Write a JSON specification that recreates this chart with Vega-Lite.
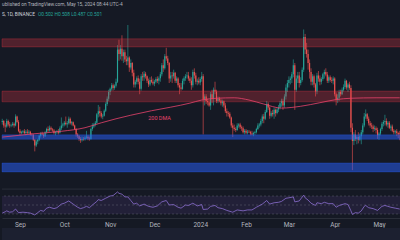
{
"$schema":"https://vega.github.io/schema/vega-lite/v6.json",
"background":"#151924",
"padding":0,
"spacing":0,
"config":{"view":{"stroke":null},"font":"Roboto"},
"datasets":{
"candles":[
{"t":"2023-08-20","o":0.528,"h":0.535,"l":0.522,"c":0.530},
{"t":"2023-08-21","o":0.530,"h":0.532,"l":0.515,"c":0.520},
{"t":"2023-08-22","o":0.520,"h":0.525,"l":0.505,"c":0.518},
{"t":"2023-08-23","o":0.518,"h":0.535,"l":0.515,"c":0.530},
{"t":"2023-08-24","o":0.530,"h":0.533,"l":0.518,"c":0.522},
{"t":"2023-08-25","o":0.522,"h":0.528,"l":0.515,"c":0.520},
{"t":"2023-08-26","o":0.520,"h":0.524,"l":0.516,"c":0.521},
{"t":"2023-08-27","o":0.521,"h":0.528,"l":0.518,"c":0.524},
{"t":"2023-08-28","o":0.524,"h":0.527,"l":0.515,"c":0.520},
{"t":"2023-08-29","o":0.520,"h":0.545,"l":0.518,"c":0.540},
{"t":"2023-08-30","o":0.540,"h":0.542,"l":0.525,"c":0.528},
{"t":"2023-08-31","o":0.528,"h":0.532,"l":0.505,"c":0.508},
{"t":"2023-09-01","o":0.508,"h":0.512,"l":0.498,"c":0.503},
{"t":"2023-09-02","o":0.503,"h":0.508,"l":0.500,"c":0.505},
{"t":"2023-09-03","o":0.505,"h":0.510,"l":0.502,"c":0.507},
{"t":"2023-09-04","o":0.507,"h":0.512,"l":0.500,"c":0.503},
{"t":"2023-09-05","o":0.503,"h":0.510,"l":0.498,"c":0.506},
{"t":"2023-09-06","o":0.506,"h":0.512,"l":0.500,"c":0.504},
{"t":"2023-09-07","o":0.504,"h":0.510,"l":0.499,"c":0.506},
{"t":"2023-09-08","o":0.506,"h":0.508,"l":0.497,"c":0.500},
{"t":"2023-09-09","o":0.500,"h":0.503,"l":0.496,"c":0.499},
{"t":"2023-09-10","o":0.499,"h":0.501,"l":0.485,"c":0.488},
{"t":"2023-09-11","o":0.488,"h":0.490,"l":0.462,"c":0.475},
{"t":"2023-09-12","o":0.475,"h":0.488,"l":0.472,"c":0.484},
{"t":"2023-09-13","o":0.484,"h":0.490,"l":0.478,"c":0.488},
{"t":"2023-09-14","o":0.488,"h":0.500,"l":0.485,"c":0.497},
{"t":"2023-09-15","o":0.497,"h":0.505,"l":0.493,"c":0.502},
{"t":"2023-09-16","o":0.502,"h":0.506,"l":0.498,"c":0.500},
{"t":"2023-09-17","o":0.500,"h":0.503,"l":0.492,"c":0.496},
{"t":"2023-09-18","o":0.496,"h":0.508,"l":0.494,"c":0.505},
{"t":"2023-09-19","o":0.505,"h":0.515,"l":0.502,"c":0.512},
{"t":"2023-09-20","o":0.512,"h":0.518,"l":0.505,"c":0.509},
{"t":"2023-09-21","o":0.509,"h":0.520,"l":0.506,"c":0.515},
{"t":"2023-09-22","o":0.515,"h":0.518,"l":0.508,"c":0.511},
{"t":"2023-09-23","o":0.511,"h":0.514,"l":0.506,"c":0.509},
{"t":"2023-09-24","o":0.509,"h":0.512,"l":0.500,"c":0.503},
{"t":"2023-09-25","o":0.503,"h":0.508,"l":0.498,"c":0.505},
{"t":"2023-09-26","o":0.505,"h":0.510,"l":0.501,"c":0.507},
{"t":"2023-09-27","o":0.507,"h":0.512,"l":0.500,"c":0.504},
{"t":"2023-09-28","o":0.504,"h":0.518,"l":0.502,"c":0.514},
{"t":"2023-09-29","o":0.514,"h":0.538,"l":0.510,"c":0.520},
{"t":"2023-09-30","o":0.520,"h":0.526,"l":0.515,"c":0.522},
{"t":"2023-10-01","o":0.522,"h":0.530,"l":0.518,"c":0.526},
{"t":"2023-10-02","o":0.526,"h":0.540,"l":0.520,"c":0.523},
{"t":"2023-10-03","o":0.523,"h":0.530,"l":0.515,"c":0.525},
{"t":"2023-10-04","o":0.525,"h":0.540,"l":0.522,"c":0.535},
{"t":"2023-10-05","o":0.535,"h":0.538,"l":0.522,"c":0.525},
{"t":"2023-10-06","o":0.525,"h":0.530,"l":0.520,"c":0.527},
{"t":"2023-10-07","o":0.527,"h":0.529,"l":0.518,"c":0.520},
{"t":"2023-10-08","o":0.520,"h":0.522,"l":0.510,"c":0.512},
{"t":"2023-10-09","o":0.512,"h":0.514,"l":0.495,"c":0.500},
{"t":"2023-10-10","o":0.500,"h":0.503,"l":0.492,"c":0.496},
{"t":"2023-10-11","o":0.496,"h":0.498,"l":0.485,"c":0.490},
{"t":"2023-10-12","o":0.490,"h":0.494,"l":0.481,"c":0.487},
{"t":"2023-10-13","o":0.487,"h":0.495,"l":0.484,"c":0.490},
{"t":"2023-10-14","o":0.490,"h":0.494,"l":0.486,"c":0.489},
{"t":"2023-10-15","o":0.489,"h":0.496,"l":0.486,"c":0.493},
{"t":"2023-10-16","o":0.493,"h":0.508,"l":0.490,"c":0.495},
{"t":"2023-10-17","o":0.495,"h":0.498,"l":0.487,"c":0.491},
{"t":"2023-10-18","o":0.491,"h":0.495,"l":0.486,"c":0.490},
{"t":"2023-10-19","o":0.490,"h":0.515,"l":0.488,"c":0.512},
{"t":"2023-10-20","o":0.512,"h":0.525,"l":0.508,"c":0.518},
{"t":"2023-10-21","o":0.518,"h":0.526,"l":0.514,"c":0.522},
{"t":"2023-10-22","o":0.522,"h":0.530,"l":0.518,"c":0.526},
{"t":"2023-10-23","o":0.526,"h":0.548,"l":0.524,"c":0.545},
{"t":"2023-10-24","o":0.545,"h":0.566,"l":0.538,"c":0.552},
{"t":"2023-10-25","o":0.552,"h":0.562,"l":0.540,"c":0.548},
{"t":"2023-10-26","o":0.548,"h":0.552,"l":0.536,"c":0.540},
{"t":"2023-10-27","o":0.540,"h":0.546,"l":0.534,"c":0.542},
{"t":"2023-10-28","o":0.542,"h":0.556,"l":0.540,"c":0.553},
{"t":"2023-10-29","o":0.553,"h":0.572,"l":0.550,"c":0.568},
{"t":"2023-10-30","o":0.568,"h":0.585,"l":0.564,"c":0.580},
{"t":"2023-10-31","o":0.580,"h":0.600,"l":0.575,"c":0.595},
{"t":"2023-11-01","o":0.595,"h":0.605,"l":0.588,"c":0.602},
{"t":"2023-11-02","o":0.602,"h":0.615,"l":0.598,"c":0.610},
{"t":"2023-11-03","o":0.610,"h":0.614,"l":0.598,"c":0.604},
{"t":"2023-11-04","o":0.604,"h":0.612,"l":0.600,"c":0.609},
{"t":"2023-11-05","o":0.609,"h":0.625,"l":0.605,"c":0.618},
{"t":"2023-11-06","o":0.618,"h":0.700,"l":0.615,"c":0.690},
{"t":"2023-11-07","o":0.690,"h":0.712,"l":0.665,"c":0.680},
{"t":"2023-11-08","o":0.680,"h":0.700,"l":0.668,"c":0.692},
{"t":"2023-11-09","o":0.692,"h":0.722,"l":0.665,"c":0.675},
{"t":"2023-11-10","o":0.675,"h":0.690,"l":0.660,"c":0.684},
{"t":"2023-11-11","o":0.684,"h":0.690,"l":0.662,"c":0.668},
{"t":"2023-11-12","o":0.668,"h":0.676,"l":0.655,"c":0.664},
{"t":"2023-11-13","o":0.664,"h":0.745,"l":0.655,"c":0.672},
{"t":"2023-11-14","o":0.672,"h":0.675,"l":0.640,"c":0.650},
{"t":"2023-11-15","o":0.650,"h":0.668,"l":0.645,"c":0.660},
{"t":"2023-11-16","o":0.660,"h":0.662,"l":0.630,"c":0.638},
{"t":"2023-11-17","o":0.638,"h":0.645,"l":0.605,"c":0.612},
{"t":"2023-11-18","o":0.612,"h":0.622,"l":0.605,"c":0.618},
{"t":"2023-11-19","o":0.618,"h":0.630,"l":0.612,"c":0.626},
{"t":"2023-11-20","o":0.626,"h":0.632,"l":0.612,"c":0.618},
{"t":"2023-11-21","o":0.618,"h":0.625,"l":0.590,"c":0.602},
{"t":"2023-11-22","o":0.602,"h":0.635,"l":0.598,"c":0.630},
{"t":"2023-11-23","o":0.630,"h":0.640,"l":0.620,"c":0.628},
{"t":"2023-11-24","o":0.628,"h":0.642,"l":0.620,"c":0.636},
{"t":"2023-11-25","o":0.636,"h":0.640,"l":0.625,"c":0.630},
{"t":"2023-11-26","o":0.630,"h":0.632,"l":0.615,"c":0.620},
{"t":"2023-11-27","o":0.620,"h":0.625,"l":0.606,"c":0.612},
{"t":"2023-11-28","o":0.612,"h":0.628,"l":0.608,"c":0.622},
{"t":"2023-11-29","o":0.622,"h":0.630,"l":0.615,"c":0.618},
{"t":"2023-11-30","o":0.618,"h":0.625,"l":0.610,"c":0.614},
{"t":"2023-12-01","o":0.614,"h":0.622,"l":0.608,"c":0.618},
{"t":"2023-12-02","o":0.618,"h":0.628,"l":0.614,"c":0.624},
{"t":"2023-12-03","o":0.624,"h":0.630,"l":0.615,"c":0.620},
{"t":"2023-12-04","o":0.620,"h":0.630,"l":0.612,"c":0.626},
{"t":"2023-12-05","o":0.626,"h":0.640,"l":0.618,"c":0.635},
{"t":"2023-12-06","o":0.635,"h":0.660,"l":0.630,"c":0.655},
{"t":"2023-12-07","o":0.655,"h":0.668,"l":0.640,"c":0.648},
{"t":"2023-12-08","o":0.648,"h":0.680,"l":0.645,"c":0.675},
{"t":"2023-12-09","o":0.675,"h":0.694,"l":0.665,"c":0.670},
{"t":"2023-12-10","o":0.670,"h":0.676,"l":0.655,"c":0.660},
{"t":"2023-12-11","o":0.660,"h":0.662,"l":0.615,"c":0.625},
{"t":"2023-12-12","o":0.625,"h":0.640,"l":0.618,"c":0.632},
{"t":"2023-12-13","o":0.632,"h":0.640,"l":0.615,"c":0.630},
{"t":"2023-12-14","o":0.630,"h":0.645,"l":0.625,"c":0.638},
{"t":"2023-12-15","o":0.638,"h":0.640,"l":0.615,"c":0.620},
{"t":"2023-12-16","o":0.620,"h":0.630,"l":0.615,"c":0.625},
{"t":"2023-12-17","o":0.625,"h":0.628,"l":0.605,"c":0.610},
{"t":"2023-12-18","o":0.610,"h":0.615,"l":0.590,"c":0.605},
{"t":"2023-12-19","o":0.605,"h":0.615,"l":0.598,"c":0.602},
{"t":"2023-12-20","o":0.602,"h":0.625,"l":0.600,"c":0.620},
{"t":"2023-12-21","o":0.620,"h":0.630,"l":0.612,"c":0.626},
{"t":"2023-12-22","o":0.626,"h":0.635,"l":0.620,"c":0.630},
{"t":"2023-12-23","o":0.630,"h":0.640,"l":0.625,"c":0.632},
{"t":"2023-12-24","o":0.632,"h":0.640,"l":0.620,"c":0.625},
{"t":"2023-12-25","o":0.625,"h":0.630,"l":0.615,"c":0.620},
{"t":"2023-12-26","o":0.620,"h":0.628,"l":0.600,"c":0.610},
{"t":"2023-12-27","o":0.610,"h":0.645,"l":0.605,"c":0.640},
{"t":"2023-12-28","o":0.640,"h":0.648,"l":0.625,"c":0.632},
{"t":"2023-12-29","o":0.632,"h":0.638,"l":0.612,"c":0.618},
{"t":"2023-12-30","o":0.618,"h":0.625,"l":0.610,"c":0.620},
{"t":"2023-12-31","o":0.620,"h":0.628,"l":0.612,"c":0.616},
{"t":"2024-01-01","o":0.616,"h":0.628,"l":0.610,"c":0.624},
{"t":"2024-01-02","o":0.624,"h":0.640,"l":0.618,"c":0.630},
{"t":"2024-01-03","o":0.630,"h":0.635,"l":0.500,"c":0.578},
{"t":"2024-01-04","o":0.578,"h":0.590,"l":0.565,"c":0.585},
{"t":"2024-01-05","o":0.585,"h":0.590,"l":0.568,"c":0.575},
{"t":"2024-01-06","o":0.575,"h":0.580,"l":0.565,"c":0.572},
{"t":"2024-01-07","o":0.572,"h":0.578,"l":0.562,"c":0.565},
{"t":"2024-01-08","o":0.565,"h":0.595,"l":0.555,"c":0.590},
{"t":"2024-01-09","o":0.590,"h":0.600,"l":0.570,"c":0.580},
{"t":"2024-01-10","o":0.580,"h":0.605,"l":0.565,"c":0.600},
{"t":"2024-01-11","o":0.600,"h":0.618,"l":0.590,"c":0.596},
{"t":"2024-01-12","o":0.596,"h":0.600,"l":0.570,"c":0.575},
{"t":"2024-01-13","o":0.575,"h":0.585,"l":0.570,"c":0.580},
{"t":"2024-01-14","o":0.580,"h":0.584,"l":0.572,"c":0.576},
{"t":"2024-01-15","o":0.576,"h":0.580,"l":0.565,"c":0.570},
{"t":"2024-01-16","o":0.570,"h":0.578,"l":0.562,"c":0.574},
{"t":"2024-01-17","o":0.574,"h":0.576,"l":0.560,"c":0.565},
{"t":"2024-01-18","o":0.565,"h":0.570,"l":0.548,"c":0.552},
{"t":"2024-01-19","o":0.552,"h":0.558,"l":0.540,"c":0.548},
{"t":"2024-01-20","o":0.548,"h":0.552,"l":0.540,"c":0.546},
{"t":"2024-01-21","o":0.546,"h":0.550,"l":0.535,"c":0.538},
{"t":"2024-01-22","o":0.538,"h":0.540,"l":0.515,"c":0.520},
{"t":"2024-01-23","o":0.520,"h":0.525,"l":0.494,"c":0.515},
{"t":"2024-01-24","o":0.515,"h":0.522,"l":0.508,"c":0.512},
{"t":"2024-01-25","o":0.512,"h":0.516,"l":0.505,"c":0.510},
{"t":"2024-01-26","o":0.510,"h":0.525,"l":0.508,"c":0.520},
{"t":"2024-01-27","o":0.520,"h":0.525,"l":0.515,"c":0.522},
{"t":"2024-01-28","o":0.522,"h":0.526,"l":0.512,"c":0.516},
{"t":"2024-01-29","o":0.516,"h":0.520,"l":0.508,"c":0.514},
{"t":"2024-01-30","o":0.514,"h":0.518,"l":0.502,"c":0.505},
{"t":"2024-01-31","o":0.505,"h":0.512,"l":0.500,"c":0.508},
{"t":"2024-02-01","o":0.508,"h":0.512,"l":0.500,"c":0.504},
{"t":"2024-02-02","o":0.504,"h":0.510,"l":0.500,"c":0.506},
{"t":"2024-02-03","o":0.506,"h":0.510,"l":0.503,"c":0.505},
{"t":"2024-02-04","o":0.505,"h":0.508,"l":0.498,"c":0.502},
{"t":"2024-02-05","o":0.502,"h":0.508,"l":0.498,"c":0.500},
{"t":"2024-02-06","o":0.500,"h":0.506,"l":0.496,"c":0.503},
{"t":"2024-02-07","o":0.503,"h":0.508,"l":0.499,"c":0.505},
{"t":"2024-02-08","o":0.505,"h":0.515,"l":0.502,"c":0.512},
{"t":"2024-02-09","o":0.512,"h":0.525,"l":0.510,"c":0.520},
{"t":"2024-02-10","o":0.520,"h":0.526,"l":0.515,"c":0.522},
{"t":"2024-02-11","o":0.522,"h":0.535,"l":0.518,"c":0.530},
{"t":"2024-02-12","o":0.530,"h":0.545,"l":0.525,"c":0.540},
{"t":"2024-02-13","o":0.540,"h":0.546,"l":0.525,"c":0.535},
{"t":"2024-02-14","o":0.535,"h":0.555,"l":0.532,"c":0.550},
{"t":"2024-02-15","o":0.550,"h":0.575,"l":0.548,"c":0.568},
{"t":"2024-02-16","o":0.568,"h":0.572,"l":0.555,"c":0.560},
{"t":"2024-02-17","o":0.560,"h":0.563,"l":0.535,"c":0.542},
{"t":"2024-02-18","o":0.542,"h":0.552,"l":0.538,"c":0.548},
{"t":"2024-02-19","o":0.548,"h":0.555,"l":0.540,"c":0.545},
{"t":"2024-02-20","o":0.545,"h":0.560,"l":0.535,"c":0.555},
{"t":"2024-02-21","o":0.555,"h":0.558,"l":0.540,"c":0.548},
{"t":"2024-02-22","o":0.548,"h":0.560,"l":0.545,"c":0.556},
{"t":"2024-02-23","o":0.556,"h":0.566,"l":0.550,"c":0.560},
{"t":"2024-02-24","o":0.560,"h":0.575,"l":0.556,"c":0.570},
{"t":"2024-02-25","o":0.570,"h":0.580,"l":0.562,"c":0.575},
{"t":"2024-02-26","o":0.575,"h":0.580,"l":0.555,"c":0.565},
{"t":"2024-02-27","o":0.565,"h":0.590,"l":0.560,"c":0.585},
{"t":"2024-02-28","o":0.585,"h":0.612,"l":0.578,"c":0.605},
{"t":"2024-02-29","o":0.605,"h":0.622,"l":0.595,"c":0.615},
{"t":"2024-03-01","o":0.615,"h":0.630,"l":0.605,"c":0.622},
{"t":"2024-03-02","o":0.622,"h":0.630,"l":0.612,"c":0.625},
{"t":"2024-03-03","o":0.625,"h":0.640,"l":0.615,"c":0.635},
{"t":"2024-03-04","o":0.635,"h":0.668,"l":0.628,"c":0.655},
{"t":"2024-03-05","o":0.655,"h":0.660,"l":0.555,"c":0.600},
{"t":"2024-03-06","o":0.600,"h":0.632,"l":0.595,"c":0.625},
{"t":"2024-03-07","o":0.625,"h":0.640,"l":0.615,"c":0.632},
{"t":"2024-03-08","o":0.632,"h":0.640,"l":0.605,"c":0.615},
{"t":"2024-03-09","o":0.615,"h":0.628,"l":0.610,"c":0.622},
{"t":"2024-03-10","o":0.622,"h":0.650,"l":0.618,"c":0.645},
{"t":"2024-03-11","o":0.645,"h":0.735,"l":0.640,"c":0.718},
{"t":"2024-03-12","o":0.718,"h":0.725,"l":0.680,"c":0.690},
{"t":"2024-03-13","o":0.690,"h":0.705,"l":0.672,"c":0.680},
{"t":"2024-03-14","o":0.680,"h":0.690,"l":0.645,"c":0.660},
{"t":"2024-03-15","o":0.660,"h":0.668,"l":0.625,"c":0.640},
{"t":"2024-03-16","o":0.640,"h":0.648,"l":0.610,"c":0.618},
{"t":"2024-03-17","o":0.618,"h":0.635,"l":0.610,"c":0.630},
{"t":"2024-03-18","o":0.630,"h":0.634,"l":0.605,"c":0.612},
{"t":"2024-03-19","o":0.612,"h":0.615,"l":0.585,"c":0.596},
{"t":"2024-03-20","o":0.596,"h":0.638,"l":0.590,"c":0.632},
{"t":"2024-03-21","o":0.632,"h":0.642,"l":0.618,"c":0.625},
{"t":"2024-03-22","o":0.625,"h":0.632,"l":0.610,"c":0.618},
{"t":"2024-03-23","o":0.618,"h":0.628,"l":0.612,"c":0.624},
{"t":"2024-03-24","o":0.624,"h":0.638,"l":0.620,"c":0.635},
{"t":"2024-03-25","o":0.635,"h":0.645,"l":0.625,"c":0.640},
{"t":"2024-03-26","o":0.640,"h":0.648,"l":0.630,"c":0.634},
{"t":"2024-03-27","o":0.634,"h":0.640,"l":0.615,"c":0.620},
{"t":"2024-03-28","o":0.620,"h":0.632,"l":0.615,"c":0.628},
{"t":"2024-03-29","o":0.628,"h":0.632,"l":0.618,"c":0.622},
{"t":"2024-03-30","o":0.622,"h":0.628,"l":0.615,"c":0.620},
{"t":"2024-03-31","o":0.620,"h":0.630,"l":0.612,"c":0.625},
{"t":"2024-04-01","o":0.625,"h":0.628,"l":0.585,"c":0.590},
{"t":"2024-04-02","o":0.590,"h":0.594,"l":0.565,"c":0.578},
{"t":"2024-04-03","o":0.578,"h":0.590,"l":0.570,"c":0.582},
{"t":"2024-04-04","o":0.582,"h":0.600,"l":0.575,"c":0.595},
{"t":"2024-04-05","o":0.595,"h":0.600,"l":0.585,"c":0.590},
{"t":"2024-04-06","o":0.590,"h":0.605,"l":0.588,"c":0.600},
{"t":"2024-04-07","o":0.600,"h":0.612,"l":0.596,"c":0.606},
{"t":"2024-04-08","o":0.606,"h":0.625,"l":0.602,"c":0.620},
{"t":"2024-04-09","o":0.620,"h":0.622,"l":0.600,"c":0.605},
{"t":"2024-04-10","o":0.605,"h":0.615,"l":0.595,"c":0.612},
{"t":"2024-04-11","o":0.612,"h":0.618,"l":0.600,"c":0.604},
{"t":"2024-04-12","o":0.604,"h":0.610,"l":0.505,"c":0.515},
{"t":"2024-04-13","o":0.515,"h":0.525,"l":0.420,"c":0.485},
{"t":"2024-04-14","o":0.485,"h":0.505,"l":0.476,"c":0.500},
{"t":"2024-04-15","o":0.500,"h":0.510,"l":0.485,"c":0.490},
{"t":"2024-04-16","o":0.490,"h":0.498,"l":0.478,"c":0.494},
{"t":"2024-04-17","o":0.494,"h":0.505,"l":0.480,"c":0.488},
{"t":"2024-04-18","o":0.488,"h":0.502,"l":0.485,"c":0.496},
{"t":"2024-04-19","o":0.496,"h":0.510,"l":0.478,"c":0.505},
{"t":"2024-04-20","o":0.505,"h":0.525,"l":0.500,"c":0.520},
{"t":"2024-04-21","o":0.520,"h":0.548,"l":0.516,"c":0.540},
{"t":"2024-04-22","o":0.540,"h":0.556,"l":0.535,"c":0.545},
{"t":"2024-04-23","o":0.545,"h":0.548,"l":0.530,"c":0.535},
{"t":"2024-04-24","o":0.535,"h":0.540,"l":0.520,"c":0.525},
{"t":"2024-04-25","o":0.525,"h":0.530,"l":0.515,"c":0.520},
{"t":"2024-04-26","o":0.520,"h":0.526,"l":0.512,"c":0.518},
{"t":"2024-04-27","o":0.518,"h":0.522,"l":0.505,"c":0.512},
{"t":"2024-04-28","o":0.512,"h":0.520,"l":0.508,"c":0.514},
{"t":"2024-04-29","o":0.514,"h":0.518,"l":0.502,"c":0.510},
{"t":"2024-04-30","o":0.510,"h":0.515,"l":0.490,"c":0.498},
{"t":"2024-05-01","o":0.498,"h":0.505,"l":0.488,"c":0.502},
{"t":"2024-05-02","o":0.502,"h":0.515,"l":0.498,"c":0.512},
{"t":"2024-05-03","o":0.512,"h":0.528,"l":0.508,"c":0.524},
{"t":"2024-05-04","o":0.524,"h":0.532,"l":0.518,"c":0.528},
{"t":"2024-05-05","o":0.528,"h":0.544,"l":0.520,"c":0.530},
{"t":"2024-05-06","o":0.530,"h":0.536,"l":0.518,"c":0.522},
{"t":"2024-05-07","o":0.522,"h":0.530,"l":0.515,"c":0.526},
{"t":"2024-05-08","o":0.526,"h":0.530,"l":0.512,"c":0.515},
{"t":"2024-05-09","o":0.515,"h":0.522,"l":0.508,"c":0.518},
{"t":"2024-05-10","o":0.518,"h":0.522,"l":0.505,"c":0.508},
{"t":"2024-05-11","o":0.508,"h":0.512,"l":0.500,"c":0.505},
{"t":"2024-05-12","o":0.505,"h":0.510,"l":0.500,"c":0.507},
{"t":"2024-05-13","o":0.507,"h":0.512,"l":0.496,"c":0.503},
{"t":"2024-05-14","o":0.503,"h":0.506,"l":0.492,"c":0.500},
{"t":"2024-05-15","o":0.502,"h":0.508,"l":0.487,"c":0.501}
],
"ma":[
{"t":"2023-08-20","v":0.494},{"t":"2023-09-09","v":0.501},{"t":"2023-09-29","v":0.507},{"t":"2023-10-15","v":0.515},
{"t":"2023-10-26","v":0.526},{"t":"2023-11-05","v":0.535},{"t":"2023-11-15","v":0.543},{"t":"2023-11-29","v":0.553},
{"t":"2023-12-12","v":0.561},{"t":"2023-12-25","v":0.570},{"t":"2024-01-02","v":0.577},{"t":"2024-01-12","v":0.581},
{"t":"2024-01-24","v":0.582},{"t":"2024-02-03","v":0.577},{"t":"2024-02-13","v":0.568},{"t":"2024-02-25","v":0.559},
{"t":"2024-03-09","v":0.563},{"t":"2024-03-22","v":0.571},{"t":"2024-04-02","v":0.578},{"t":"2024-04-12","v":0.581},
{"t":"2024-04-29","v":0.582},{"t":"2024-05-15","v":0.582}
],
"zones":[
{"lo":0.696,"hi":0.714,"z":"r"},{"lo":0.573,"hi":0.597,"z":"r"},
{"lo":0.489,"hi":0.499,"z":"b"},{"lo":0.416,"hi":0.436,"z":"b"}
],
"rsi":[
{"t":"2023-08-20","r":32},{"t":"2023-08-22","r":35},{"t":"2023-08-23","r":37},{"t":"2023-08-25","r":34},
{"t":"2023-08-27","r":35},{"t":"2023-08-29","r":41},{"t":"2023-08-31","r":33},{"t":"2023-09-03","r":34},
{"t":"2023-09-06","r":33},{"t":"2023-09-08","r":32},{"t":"2023-09-11","r":28},{"t":"2023-09-13","r":33},
{"t":"2023-09-15","r":38},{"t":"2023-09-17","r":36},{"t":"2023-09-19","r":43},{"t":"2023-09-21","r":45},
{"t":"2023-09-24","r":42},{"t":"2023-09-26","r":44},{"t":"2023-09-29","r":52},{"t":"2023-10-01","r":54},
{"t":"2023-10-04","r":59},{"t":"2023-10-07","r":52},{"t":"2023-10-10","r":45},{"t":"2023-10-12","r":42},
{"t":"2023-10-14","r":44},{"t":"2023-10-16","r":47},{"t":"2023-10-18","r":44},{"t":"2023-10-20","r":50},
{"t":"2023-10-23","r":58},{"t":"2023-10-24","r":62},{"t":"2023-10-26","r":60},{"t":"2023-10-29","r":65},
{"t":"2023-11-01","r":70},{"t":"2023-11-03","r":71},{"t":"2023-11-06","r":79},{"t":"2023-11-07","r":76},
{"t":"2023-11-09","r":74},{"t":"2023-11-11","r":68},{"t":"2023-11-13","r":68},{"t":"2023-11-15","r":60},
{"t":"2023-11-17","r":52},{"t":"2023-11-19","r":54},{"t":"2023-11-21","r":48},{"t":"2023-11-24","r":52},
{"t":"2023-11-27","r":47},{"t":"2023-11-30","r":45},{"t":"2023-12-03","r":48},{"t":"2023-12-06","r":57},
{"t":"2023-12-09","r":60},{"t":"2023-12-11","r":50},{"t":"2023-12-14","r":51},{"t":"2023-12-17","r":45},
{"t":"2023-12-19","r":43},{"t":"2023-12-22","r":50},{"t":"2023-12-24","r":49},{"t":"2023-12-27","r":54},
{"t":"2023-12-30","r":48},{"t":"2024-01-02","r":51},{"t":"2024-01-03","r":40},{"t":"2024-01-06","r":41},
{"t":"2024-01-08","r":47},{"t":"2024-01-11","r":49},{"t":"2024-01-13","r":44},{"t":"2024-01-16","r":42},
{"t":"2024-01-19","r":38},{"t":"2024-01-22","r":35},{"t":"2024-01-23","r":34},{"t":"2024-01-26","r":39},
{"t":"2024-01-30","r":37},{"t":"2024-02-02","r":39},{"t":"2024-02-05","r":39},{"t":"2024-02-08","r":45},
{"t":"2024-02-12","r":52},{"t":"2024-02-15","r":60},{"t":"2024-02-17","r":52},{"t":"2024-02-20","r":55},
{"t":"2024-02-23","r":56},{"t":"2024-02-25","r":58},{"t":"2024-02-28","r":65},{"t":"2024-03-01","r":66},
{"t":"2024-03-04","r":68},{"t":"2024-03-05","r":57},{"t":"2024-03-08","r":59},{"t":"2024-03-11","r":72},
{"t":"2024-03-12","r":66},{"t":"2024-03-14","r":61},{"t":"2024-03-16","r":54},{"t":"2024-03-19","r":49},
{"t":"2024-03-20","r":55},{"t":"2024-03-23","r":53},{"t":"2024-03-25","r":56},{"t":"2024-03-28","r":53},
{"t":"2024-03-31","r":53},{"t":"2024-04-02","r":45},{"t":"2024-04-04","r":49},{"t":"2024-04-08","r":53},
{"t":"2024-04-10","r":51},{"t":"2024-04-12","r":37},{"t":"2024-04-13","r":29},{"t":"2024-04-15","r":33},
{"t":"2024-04-17","r":32},{"t":"2024-04-19","r":37},{"t":"2024-04-21","r":47},{"t":"2024-04-22","r":49},
{"t":"2024-04-24","r":44},{"t":"2024-04-27","r":42},{"t":"2024-04-30","r":38},{"t":"2024-05-03","r":47},
{"t":"2024-05-05","r":49},{"t":"2024-05-07","r":47},{"t":"2024-05-09","r":45},{"t":"2024-05-12","r":43},
{"t":"2024-05-15","r":41}
]
},
"vconcat":[
{
"width":400,"height":188,
"layer":[
{"data":{"name":"candles"},"mark":{"type":"rule","strokeWidth":0.6},
 "encoding":{
  "x":{"field":"t","type":"temporal","axis":null,"scale":{"type":"utc","domain":[{"year":2023,"month":8,"date":19,"hours":19,"minutes":40,"utc":true},{"year":2024,"month":5,"date":16,"hours":13,"minutes":26,"utc":true}]}},
  "y":{"field":"l","type":"quantitative","axis":null,"scale":{"domain":[0.380,0.801],"zero":false,"nice":false}},
  "y2":{"field":"h"},
  "color":{"condition":{"test":"datum.c >= datum.o","value":"#26a69a"},"value":"#ef5350"}}},
{"data":{"name":"candles"},"mark":{"type":"rule","strokeWidth":1.15},
 "encoding":{
  "x":{"field":"t","type":"temporal","axis":null,"scale":{"type":"utc","domain":[{"year":2023,"month":8,"date":19,"hours":19,"minutes":40,"utc":true},{"year":2024,"month":5,"date":16,"hours":13,"minutes":26,"utc":true}]}},
  "y":{"field":"o","type":"quantitative","axis":null,"scale":{"domain":[0.380,0.801],"zero":false,"nice":false}},
  "y2":{"field":"c"},
  "color":{"condition":{"test":"datum.c >= datum.o","value":"#26a69a"},"value":"#ef5350"}}},
{"data":{"name":"zones"},"mark":{"type":"rect","strokeWidth":0.8},
 "encoding":{
  "y":{"field":"lo","type":"quantitative","axis":null,"scale":{"domain":[0.380,0.801],"zero":false,"nice":false}},
  "y2":{"field":"hi"},
  "fill":{"condition":{"test":"datum.z == 'r'","value":"#f23645"},"value":"#2962ff"},
  "fillOpacity":{"condition":{"test":"datum.z == 'r'","value":0.27},"value":0.5},
  "stroke":{"condition":{"test":"datum.z == 'r'","value":"#f23645"},"value":"#2962ff"},
  "strokeOpacity":{"value":0.35}}},
{"data":{"name":"ma"},"mark":{"type":"line","color":"#e8436c","strokeWidth":0.8,"interpolate":"monotone"},
 "encoding":{
  "x":{"field":"t","type":"temporal","axis":null,"scale":{"type":"utc","domain":[{"year":2023,"month":8,"date":19,"hours":19,"minutes":40,"utc":true},{"year":2024,"month":5,"date":16,"hours":13,"minutes":26,"utc":true}]}},
  "y":{"field":"v","type":"quantitative","axis":null,"scale":{"domain":[0.380,0.801],"zero":false,"nice":false}}}},
{"data":{"values":[{"label":"200 DMA"}]},"mark":{"type":"text","color":"#e8436c","fontSize":5.5,"align":"center","baseline":"middle"},
 "encoding":{
  "x":{"datum":{"year":2023,"month":12,"date":4,"hours":11,"utc":true},"type":"temporal","scale":{"type":"utc","domain":[{"year":2023,"month":8,"date":19,"hours":19,"minutes":40,"utc":true},{"year":2024,"month":5,"date":16,"hours":13,"minutes":26,"utc":true}]}},
  "y":{"datum":0.537,"type":"quantitative","scale":{"domain":[0.380,0.801],"zero":false,"nice":false}},
  "text":{"field":"label"}}},
{"data":{"values":[{"label":"ublished on TradingView.com, May 15, 2024 08:44 UTC-4"}]},"mark":{"type":"text","color":"#b2b5be","fontSize":4.8,"align":"left","baseline":"middle"},
 "encoding":{
  "x":{"datum":{"year":2023,"month":8,"date":19,"hours":20,"utc":true},"type":"temporal","scale":{"type":"utc","domain":[{"year":2023,"month":8,"date":19,"hours":19,"minutes":40,"utc":true},{"year":2024,"month":5,"date":16,"hours":13,"minutes":26,"utc":true}]}},
  "y":{"datum":0.790,"type":"quantitative","scale":{"domain":[0.380,0.801],"zero":false,"nice":false}},
  "text":{"field":"label"}}},
{"data":{"values":[{"label":"S, 1D, BINANCE"}]},"mark":{"type":"text","color":"#d1d4dc","fontSize":4.8,"align":"left","baseline":"middle"},
 "encoding":{
  "x":{"datum":{"year":2023,"month":8,"date":19,"hours":20,"utc":true},"type":"temporal","scale":{"type":"utc","domain":[{"year":2023,"month":8,"date":19,"hours":19,"minutes":40,"utc":true},{"year":2024,"month":5,"date":16,"hours":13,"minutes":26,"utc":true}]}},
  "y":{"datum":0.768,"type":"quantitative","scale":{"domain":[0.380,0.801],"zero":false,"nice":false}},
  "text":{"field":"label"}}},
{"data":{"values":[{"label":"O0.502  H0.508  L0.487  C0.501"}]},"mark":{"type":"text","color":"#26a69a","fontSize":4.8,"align":"left","baseline":"middle"},
 "encoding":{
  "x":{"datum":{"year":2023,"month":9,"date":13,"hours":4,"utc":true},"type":"temporal","scale":{"type":"utc","domain":[{"year":2023,"month":8,"date":19,"hours":19,"minutes":40,"utc":true},{"year":2024,"month":5,"date":16,"hours":13,"minutes":26,"utc":true}]}},
  "y":{"datum":0.768,"type":"quantitative","scale":{"domain":[0.380,0.801],"zero":false,"nice":false}},
  "text":{"field":"label"}}}
]
},
{
"width":400,"height":29,
"layer":[
{"data":{"values":[{"a":70,"b":30}]},"mark":{"type":"rect","color":"#7e57c2","opacity":0.13},
 "encoding":{
  "y":{"field":"a","type":"quantitative","axis":null,"scale":{"domain":[21.1,85.6],"zero":false,"nice":false}},
  "y2":{"field":"b"}}},
{"data":{"values":[{"lv":70},{"lv":50},{"lv":30}]},"mark":{"type":"rule","color":"#787b86","strokeWidth":0.6,"strokeDash":[2,2],"opacity":0.6},
 "encoding":{
  "y":{"field":"lv","type":"quantitative","axis":null,"scale":{"domain":[21.1,85.6],"zero":false,"nice":false}}}},
{"data":{"values":[{"lv":85.4}]},"mark":{"type":"rule","color":"#2a2e39","strokeWidth":1},
 "encoding":{
  "y":{"field":"lv","type":"quantitative","axis":null,"scale":{"domain":[21.1,85.6],"zero":false,"nice":false}}}},
{"data":{"name":"rsi"},"mark":{"type":"line","color":"#8c6fd0","strokeWidth":0.8},
 "encoding":{
  "x":{"field":"t","type":"temporal","title":null,"scale":{"type":"utc","domain":[{"year":2023,"month":8,"date":19,"hours":19,"minutes":40,"utc":true},{"year":2024,"month":5,"date":16,"hours":13,"minutes":26,"utc":true}]},
   "axis":{"values":[{"year":2023,"month":9,"date":1,"utc":true},{"year":2023,"month":10,"date":1,"utc":true},{"year":2023,"month":11,"date":1,"utc":true},{"year":2023,"month":12,"date":1,"utc":true},{"year":2024,"month":1,"date":1,"utc":true},{"year":2024,"month":2,"date":1,"utc":true},{"year":2024,"month":3,"date":1,"utc":true},{"year":2024,"month":4,"date":1,"utc":true},{"year":2024,"month":5,"date":1,"utc":true}],
    "labelExpr":"utcmonth(datum.value) == 0 ? utcFormat(datum.value, '%Y') : utcFormat(datum.value, '%b')",
    "ticks":false,"grid":false,"domain":true,"domainColor":"#2a2e39","labelColor":"#b2b5be","labelFontSize":6.5,"labelPadding":3,"labelFont":"Roboto","labelFlush":false}},
  "y":{"field":"r","type":"quantitative","axis":null,"scale":{"domain":[21.1,85.6],"zero":false,"nice":false}}}}
]
},
{
"width":400,"height":12,
"data":{"values":[{}]},
"mark":{"type":"rect","color":"#1c2030"},
"encoding":{}
}
]
}
